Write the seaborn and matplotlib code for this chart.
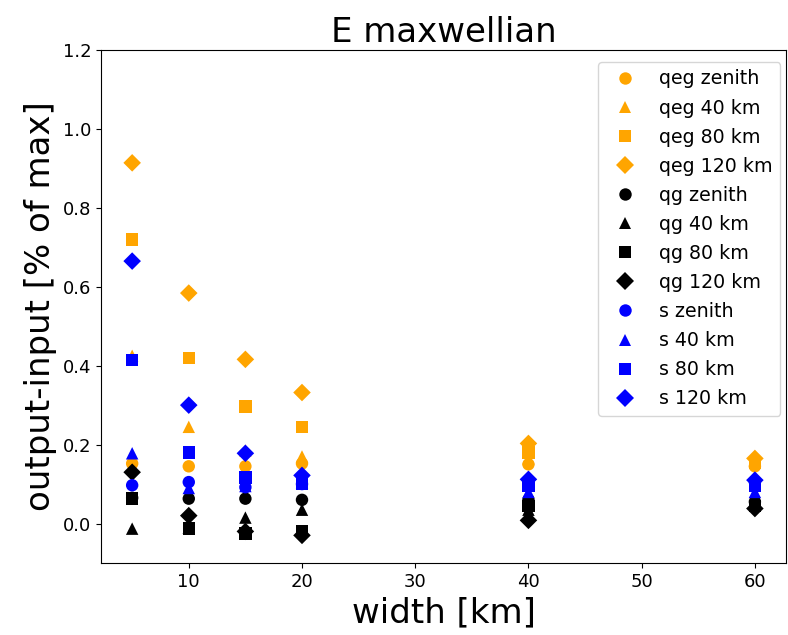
import matplotlib
matplotlib.use("Agg")
import matplotlib.pyplot as plt
import seaborn as sns
import pandas as pd

widths = [5, 10, 15, 20, 40, 60]

qeg_zenith = [0.152, 0.145, 0.145, 0.152, 0.150, 0.145]
qeg_40 = [0.425, 0.245, 0.185, 0.170, 0.165, 0.160]
qeg_80 = [0.720, 0.420, 0.297, 0.244, 0.180, 0.155]
qeg_120 = [0.914, 0.584, 0.416, 0.332, 0.203, 0.165]
qg_zenith = [0.065, 0.063, 0.063, 0.060, 0.060, 0.055]
qg_40 = [-0.013, -0.010, 0.015, 0.035, 0.035, 0.050]
qg_80 = [0.063, -0.013, -0.025, -0.020, 0.045, 0.045]
qg_120 = [0.130, 0.020, -0.020, -0.030, 0.008, 0.038]
s_zenith = [0.097, 0.105, 0.092, 0.100, 0.105, 0.105]
s_40 = [0.178, 0.090, 0.095, 0.105, 0.080, 0.080]
s_80 = [0.414, 0.180, 0.117, 0.100, 0.095, 0.095]
s_120 = [0.665, 0.300, 0.178, 0.122, 0.112, 0.110]

series = {
    "qeg zenith": qeg_zenith, "qeg 40 km": qeg_40, "qeg 80 km": qeg_80, "qeg 120 km": qeg_120,
    "qg zenith": qg_zenith, "qg 40 km": qg_40, "qg 80 km": qg_80, "qg 120 km": qg_120,
    "s zenith": s_zenith, "s 40 km": s_40, "s 80 km": s_80, "s 120 km": s_120,
}
labels = list(series.keys())

rows = []
for lab, vals in series.items():
    for w, v in zip(widths, vals):
        rows.append({"width": w, "value": v, "series": lab})
df = pd.DataFrame(rows)

group_colors = {"qeg": "orange", "qg": "black", "s": "blue"}
shape_markers = {"zenith": "o", "40": "^", "80": "s", "120": "D"}
palette = {lab: group_colors[lab.split()[0]] for lab in labels}
markers = {lab: shape_markers[lab.split()[1]] for lab in labels}

plt.rcParams["legend.fontsize"] = 13.7
fig = plt.figure(figsize=(7.88, 6.35), dpi=100)
ax = fig.add_axes([0.1282, 0.1134, 0.8693, 0.8079])

sns.scatterplot(data=df, x="width", y="value", hue="series", style="series",
                hue_order=labels, style_order=labels, palette=palette, markers=markers,
                s=80, linewidth=0, edgecolor="none", ax=ax)

ax.set_ylim(-0.1, 1.2)
ax.set_yticks([0.0, 0.2, 0.4, 0.6, 0.8, 1.0, 1.2])
ax.set_xticks([10, 20, 30, 40, 50, 60])
ax.tick_params(labelsize=13)
ax.set_title("E maxwellian", fontsize=24.5)
ax.set_xlabel("width [km]", fontsize=24.5)
ax.set_ylabel("output-input [% of max]", fontsize=24.5)
sns.move_legend(ax, "upper right", bbox_to_anchor=(1.0, 0.988), title=None,
                fontsize=13.7, labelspacing=0.53, borderaxespad=0.3)

fig.savefig("out.png", dpi=100)
